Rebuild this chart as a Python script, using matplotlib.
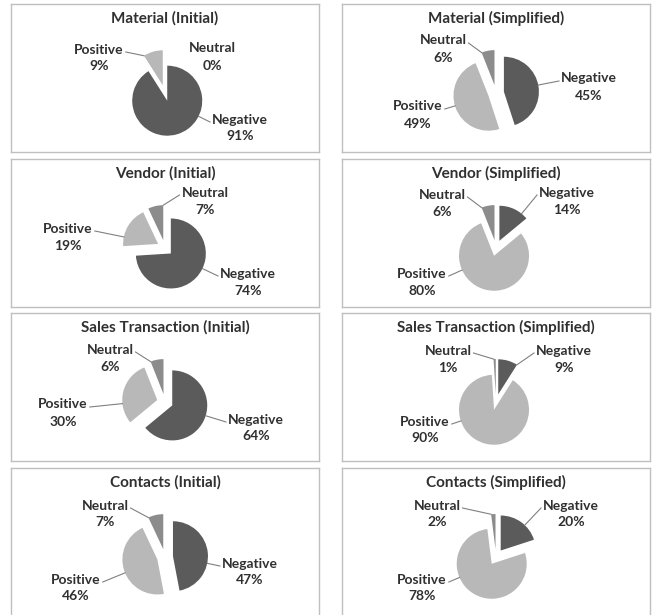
import matplotlib
matplotlib.use('Agg')
import matplotlib.pyplot as plt
import numpy as np

plt.rcParams['font.family'] = ['Lato', 'DejaVu Sans']
plt.rcParams['font.weight'] = 'bold'

W, H = 654, 615

# 数据
categories = ['Negative', 'Positive', 'Neutral']
titles = ['Material (Initial)', 'Material (Simplified)',
          'Vendor (Initial)', 'Vendor (Simplified)',
          'Sales Transaction (Initial)', 'Sales Transaction (Simplified)',
          'Contacts (Initial)', 'Contacts (Simplified)']
material_initial = [91, 9, 0]
material_simplified = [45, 49, 6]
vendor_initial = [74, 19, 7]
vendor_simplified = [14, 80, 6]
sales_initial = [64, 30, 6]
sales_simplified = [9, 90, 1]
contacts_initial = [47, 46, 7]
contacts_simplified = [20, 78, 2]
values = [material_initial, material_simplified, vendor_initial, vendor_simplified,
          sales_initial, sales_simplified, contacts_initial, contacts_simplified]

colors = ['#5b5b5b', '#b8b8b8', '#8c8c8c']
text_color = '#303030'

# 布局 (像素, 从每个框左上角算)
col_x = [11, 342]
row_y = [4, 159, 313, 468]
box_w, box_h = 308, 148
pie_xy = (154, 89)
pie_r = 35
pie_gap = 8
# 标签位置: Negative, Positive, Neutral
label_xy = [
    [(229, 124), (88, 54), (201, 53)],
    [(247, 83), (76, 111), (101, 45)],
    [(237, 123), (57, 78), (194, 42)],
    [(225, 42), (80, 123), (100, 44)],
    [(245, 115), (52, 100), (99, 45)],
    [(222, 46), (83, 117), (106, 46)],
    [(239, 104), (65, 120), (94, 46)],
    [(229, 46), (80, 120), (95, 46)],
]

fig = plt.figure(figsize=(W / 100, H / 100), dpi=100)
renderer = fig.canvas.get_renderer()

for i, (title, vals) in enumerate(zip(titles, values)):
    x0 = col_x[i % 2]
    y0 = row_y[i // 2]
    ax = fig.add_axes([x0 / W, 1 - (y0 + box_h) / H, box_w / W, box_h / H])
    wedges, _ = ax.pie(vals, colors=colors, startangle=90, counterclock=False,
                       radius=pie_r, center=(pie_xy[0], box_h - pie_xy[1]),
                       explode=[pie_gap] * 3, frame=True,
                       wedgeprops=dict(linewidth=0))
    ax.set_xlim(0, box_w)
    ax.set_ylim(0, box_h)
    ax.set_xticks([])
    ax.set_yticks([])
    for s in ax.spines.values():
        s.set_color('#bfbfbf')
        s.set_linewidth(1)

    ax.text(box_w / 2, box_h - 14, title, ha='center', va='center',
            fontsize=11, color=text_color)

    for w, name, v, (lx, ly) in zip(wedges, categories, vals, label_xy[i]):
        ly = box_h - ly
        t = ax.text(lx, ly, f'{name}\n{v}%', ha='center', va='center',
                    fontsize=10, linespacing=1.5, color=text_color)
        if v == 0:
            continue
        # 引导线
        bb = t.get_window_extent(renderer).transformed(ax.transData.inverted())
        cx, cy = w.center
        sx = bb.x1 + 2 if lx < cx else bb.x0 - 2
        sy = ly + 6
        phi = np.degrees(np.arctan2(sy - cy, sx - cx))
        t1, t2 = w.theta1, w.theta2
        phi = (phi - t1) % 360 + t1
        if phi > t2:
            phi = t2 if phi - t2 < t1 + 360 - phi else t1
        ex = cx + w.r * np.cos(np.radians(phi))
        ey = cy + w.r * np.sin(np.radians(phi))
        ax.plot([sx, ex], [sy, ey], color='#808080', lw=0.8)

    ax.set_xlim(0, box_w)
    ax.set_ylim(0, box_h)

fig.savefig('out.png', dpi=100)
